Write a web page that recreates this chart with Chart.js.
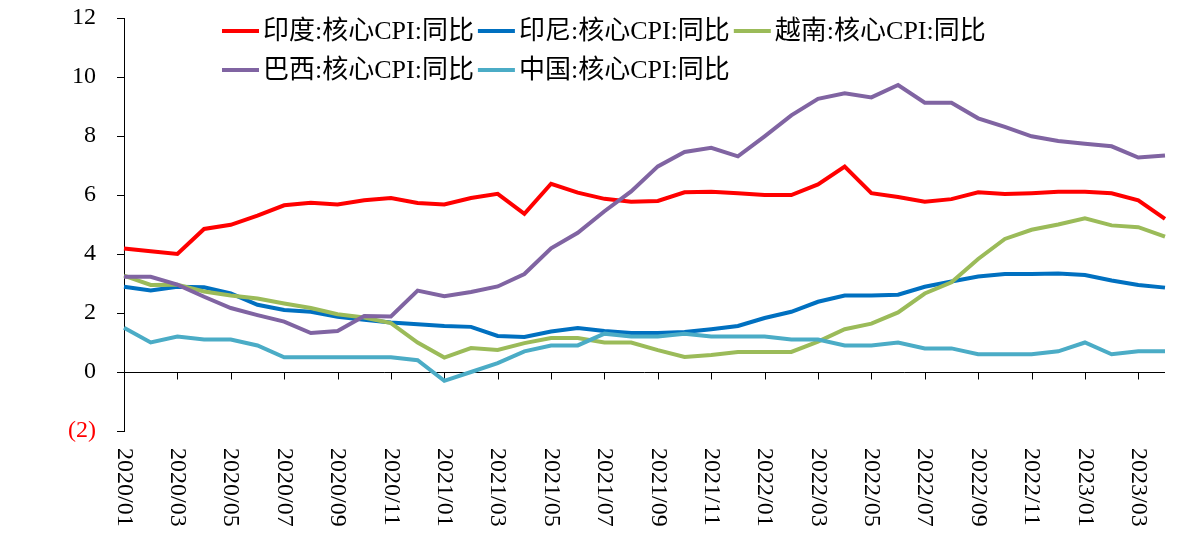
<!DOCTYPE html>
<html>
<head>
<meta charset="utf-8">
<script src="https://cdn.jsdelivr.net/npm/chart.js@4.4.0/dist/chart.umd.min.js"></script>
<style>
  html, body { margin: 0; padding: 0; background: #fff; }
  #wrap { width: 1200px; height: 535px; }
</style>
</head>
<body>
<div id="wrap"><canvas id="cpi-chart"></canvas></div>
<script>
const months = [
    '2020/01', '2020/02', '2020/03', '2020/04', '2020/05', '2020/06', '2020/07', '2020/08', '2020/09', '2020/10', '2020/11', '2020/12',
    '2021/01', '2021/02', '2021/03', '2021/04', '2021/05', '2021/06', '2021/07', '2021/08', '2021/09', '2021/10', '2021/11', '2021/12',
    '2022/01', '2022/02', '2022/03', '2022/04', '2022/05', '2022/06', '2022/07', '2022/08', '2022/09', '2022/10', '2022/11', '2022/12',
    '2023/01', '2023/02', '2023/03', '2023/04'
];
const seriesNames = ['印度:核心CPI:同比', '印尼:核心CPI:同比', '越南:核心CPI:同比', '巴西:核心CPI:同比', '中国:核心CPI:同比'];

const india = [4.19, 4.09, 4.0, 4.85, 4.99, 5.3, 5.65, 5.74, 5.68, 5.82, 5.9, 5.73, 5.68, 5.9, 6.04, 5.36, 6.38, 6.08, 5.87, 5.77,
    5.8, 6.09, 6.11, 6.06, 6.0, 6.0, 6.36, 6.96, 6.06, 5.93, 5.77, 5.86, 6.09, 6.03, 6.06, 6.11, 6.11, 6.06, 5.82, 5.19];
const indonesia = [2.89, 2.76, 2.89, 2.87, 2.66, 2.28, 2.1, 2.04, 1.87, 1.77, 1.68, 1.62, 1.56, 1.53, 1.22, 1.19, 1.37, 1.49, 1.39, 1.32,
    1.32, 1.36, 1.45, 1.56, 1.83, 2.04, 2.38, 2.59, 2.59, 2.62, 2.89, 3.07, 3.24, 3.32, 3.32, 3.34, 3.29, 3.1, 2.95, 2.86];
const vietnam = [3.27, 2.95, 2.96, 2.73, 2.59, 2.49, 2.32, 2.17, 1.96, 1.85, 1.66, 1.0, 0.49, 0.81, 0.75, 0.98, 1.15, 1.15, 1.0, 1.0,
    0.74, 0.51, 0.58, 0.68, 0.68, 0.68, 1.03, 1.45, 1.64, 2.02, 2.66, 3.04, 3.83, 4.51, 4.82, 5.0, 5.21, 4.97, 4.91, 4.59];
const brazil = [3.23, 3.23, 2.96, 2.55, 2.17, 1.93, 1.71, 1.32, 1.39, 1.9, 1.88, 2.76, 2.57, 2.71, 2.9, 3.32, 4.19, 4.72, 5.45, 6.12,
    6.97, 7.46, 7.6, 7.31, 7.99, 8.7, 9.26, 9.45, 9.31, 9.73, 9.13, 9.13, 8.6, 8.31, 7.99, 7.83, 7.74, 7.65, 7.27, 7.34];
const china = [1.5, 1.0, 1.2, 1.1, 1.1, 0.9, 0.5, 0.5, 0.5, 0.5, 0.5, 0.4, -0.3, 0.0, 0.3, 0.7, 0.9, 0.9, 1.3, 1.2,
    1.2, 1.3, 1.2, 1.2, 1.2, 1.1, 1.1, 0.9, 0.9, 1.0, 0.8, 0.8, 0.6, 0.6, 0.6, 0.7, 1.0, 0.6, 0.7, 0.7];

const yMin = -2, yMax = 12, yStep = 2;

const colors = ['#FF0000', '#0070C0', '#9BBB59', '#8064A2', '#4BACC6'];
const fontFamily = '"Liberation Serif", "Noto Sans CJK SC"';

// x axis sits at zero with labels at the bottom, legend drawn over the plot
const axisExtras = {
    id: 'axisExtras',
    beforeDatasetsDraw(chart) {
        const { ctx, scales: { x, y } } = chart;
        const y0 = Math.round(y.getPixelForValue(0)) + 0.5;
        ctx.save();
        ctx.strokeStyle = '#000';
        ctx.lineWidth = 1;
        ctx.beginPath();
        ctx.moveTo(x.left, y0);
        ctx.lineTo(x.right, y0);
        for (let i = 0; i < months.length; i += 2) {
            const px = Math.round(x.getPixelForValue(i)) + 0.5;
            ctx.moveTo(px, y0);
            ctx.lineTo(px, y0 + 7);
        }
        ctx.stroke();
        ctx.restore();
    },
    afterDraw(chart) {
        const { ctx, scales: { x, y } } = chart;
        ctx.save();
        ctx.font = '24px ' + fontFamily;
        ctx.fillStyle = '#000';
        ctx.textAlign = 'left';
        ctx.textBaseline = 'middle';
        for (let i = 0; i < months.length; i += 2) {
            ctx.save();
            ctx.translate(x.getPixelForValue(i), y.bottom + 17);
            ctx.rotate(Math.PI / 2);
            ctx.fillText(months[i], 0, 0);
            ctx.restore();
        }

        ctx.font = '26px ' + fontFamily;
        const rows = [[0, 1, 2], [3, 4]];
        rows.forEach((row, r) => {
            let lx = 222;
            const ly = 31 + r * 39;
            row.forEach(i => {
                ctx.strokeStyle = colors[i];
                ctx.lineWidth = 4;
                ctx.beginPath();
                ctx.moveTo(lx, ly);
                ctx.lineTo(lx + 37, ly);
                ctx.stroke();
                ctx.fillStyle = '#000';
                ctx.fillText(seriesNames[i], lx + 41, ly + 1);
                lx += 41 + ctx.measureText(seriesNames[i]).width + 4;
            });
        });
        ctx.restore();
    }
};

const ctx = document.getElementById('cpi-chart').getContext('2d');
const seriesData = [india, indonesia, vietnam, brazil, china];

new Chart(ctx, {
    type: 'line',
    data: {
        labels: months,
        datasets: seriesData.map((d, i) => ({
            label: seriesNames[i],
            data: d,
            borderColor: colors[i],
            backgroundColor: colors[i],
            borderWidth: 4,
            pointRadius: 0,
            tension: 0,
            order: seriesData.length - i
        }))
    },
    options: {
        responsive: true,
        maintainAspectRatio: false,
        animation: false,
        layout: { padding: { top: 18, right: 35, bottom: 96, left: 0 } },
        scales: {
            x: {
                type: 'category',
                offset: false,
                ticks: { display: false },
                grid: { display: false },
                border: { display: false }
            },
            y: {
                min: yMin,
                max: yMax,
                ticks: {
                    stepSize: yStep,
                    padding: 21,
                    color: c => c.tick.value < 0 ? '#FF0000' : '#000',
                    font: { family: fontFamily, size: 24 },
                    callback: v => v < 0 ? '(' + Math.abs(v) + ')' : v
                },
                grid: { drawOnChartArea: false, drawTicks: true, tickLength: 7, color: '#000' },
                border: { color: '#000', width: 1 },
                afterFit(scale) {
                    scale.width = 124;
                    scale.paddingTop = 0;
                    scale.paddingBottom = 0;
                }
            }
        },
        plugins: {
            legend: { display: false },
            tooltip: { enabled: false }
        }
    },
    plugins: [axisExtras]
});
</script>
</body>
</html>
